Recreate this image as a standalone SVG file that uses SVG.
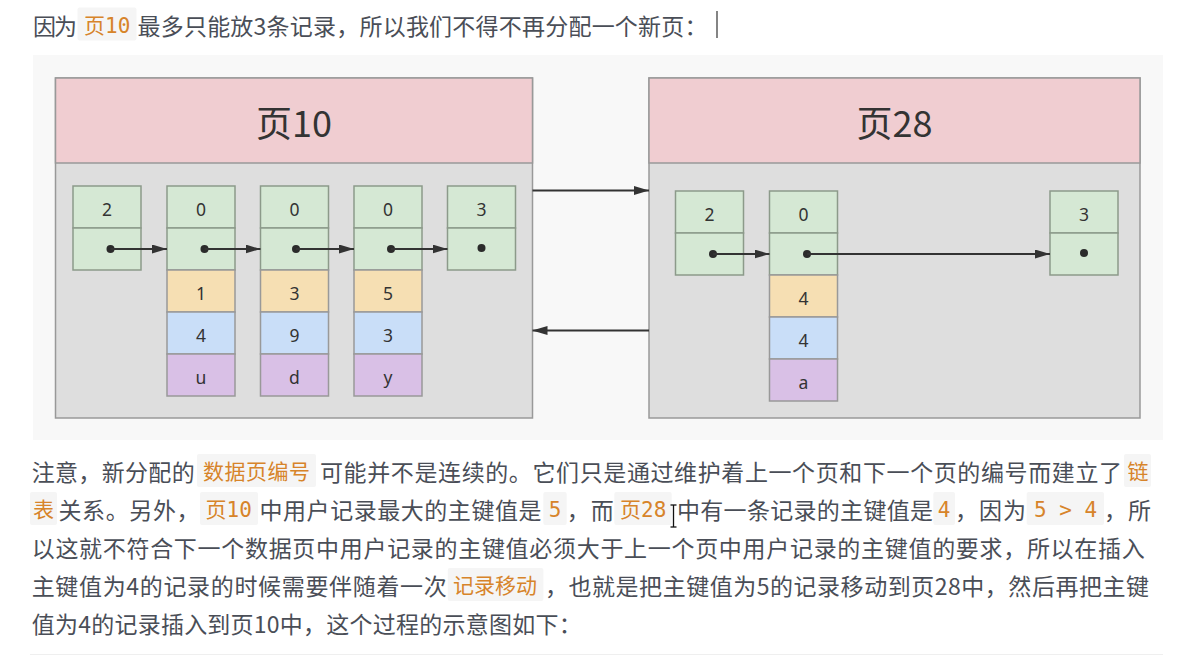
<svg xmlns="http://www.w3.org/2000/svg" width="1201" height="656" viewBox="0 0 1201 656">
<defs>
<style>
.txt{font-family:"Noto Sans CJK SC","Noto Sans",sans-serif;font-size:23px;fill:#4a4e57}
.code{font-family:"DejaVu Sans Mono","Noto Sans CJK SC",monospace;font-size:21px;fill:#d7842a}
.hl{fill:#f5f5f5}
.ptitle{font-family:"Noto Sans CJK SC","Noto Sans",sans-serif;font-size:36px;fill:#333;text-anchor:middle}
.phead{fill:#f0cdd1;stroke:#999;stroke-width:1.5}
.pbody{fill:#dedede;stroke:#999;stroke-width:1.5}
.g{fill:#d5e8d4;stroke:#8c9a8a;stroke-width:1.5}
.o{fill:#f6dfb3;stroke:#999;stroke-width:1.5}
.b{fill:#c9def8;stroke:#999;stroke-width:1.5}
.p{fill:#d9c0e6;stroke:#999;stroke-width:1.5}
.v{font-family:"Noto Sans","DejaVu Sans",sans-serif;font-size:17.5px;fill:#333;text-anchor:middle}
.dot{fill:#2b2b2b}
.ln{stroke:#333;stroke-width:2;fill:none;marker-end:url(#ah)}
</style>
<marker id="ah" markerUnits="userSpaceOnUse" markerWidth="15" markerHeight="10" refX="15" refY="4.5" orient="auto">
<path d="M0,0 L15,4.5 L0,9 z" fill="#333"/>
</marker>
</defs>
<rect x="0" y="0" width="1201" height="656" fill="#ffffff"/>

<!-- top line -->
<g id="intro">
<text class="txt" x="33" y="34.5" textLength="44" lengthAdjust="spacing">因为</text>
<rect class="hl" x="77.5" y="7.5" width="59" height="33" rx="2"/>
<text class="code" x="84" y="33">页10</text>
<text class="txt" x="137.5" y="34.5" textLength="570" lengthAdjust="spacing">最多只能放3条记录，所以我们不得不再分配一个新页：</text>
<line x1="717" y1="11" x2="717" y2="38" stroke="#333" stroke-width="1.2"/>
</g>

<!-- diagram background -->
<rect x="33" y="55" width="1130" height="385" fill="#f8f8f8"/>

<!-- page 10 -->
<g id="page10">
<rect class="pbody" x="55.5" y="78" width="477" height="340"/>
<rect class="phead" x="55.5" y="78" width="477" height="85"/>
<text class="ptitle" x="294" y="137">页10</text>
</g>
<g id="p10r1">
<rect class="g" x="73" y="186" width="68" height="42"/>
<rect class="g" x="73" y="228" width="68" height="42"/>
<text class="v" x="107" y="215.5">2</text>
<circle class="dot" cx="110.5" cy="249" r="4"/>
</g>
<g id="p10r2">
<rect class="g" x="167" y="186" width="68" height="42"/>
<rect class="g" x="167" y="228" width="68" height="42"/>
<rect class="o" x="167" y="270" width="68" height="42"/>
<rect class="b" x="167" y="312" width="68" height="42"/>
<rect class="p" x="167" y="354" width="68" height="42"/>
<text class="v" x="201" y="215.5">0</text>
<circle class="dot" cx="204.5" cy="249" r="4"/>
<text class="v" x="201" y="299.5">1</text>
<text class="v" x="201" y="341.5">4</text>
<text class="v" x="201" y="383.5">u</text>
</g>
<g id="p10r3">
<rect class="g" x="260.5" y="186" width="68" height="42"/>
<rect class="g" x="260.5" y="228" width="68" height="42"/>
<rect class="o" x="260.5" y="270" width="68" height="42"/>
<rect class="b" x="260.5" y="312" width="68" height="42"/>
<rect class="p" x="260.5" y="354" width="68" height="42"/>
<text class="v" x="294.5" y="215.5">0</text>
<circle class="dot" cx="296" cy="249" r="4"/>
<text class="v" x="294.5" y="299.5">3</text>
<text class="v" x="294.5" y="341.5">9</text>
<text class="v" x="294.5" y="383.5">d</text>
</g>
<g id="p10r4">
<rect class="g" x="354" y="186" width="68" height="42"/>
<rect class="g" x="354" y="228" width="68" height="42"/>
<rect class="o" x="354" y="270" width="68" height="42"/>
<rect class="b" x="354" y="312" width="68" height="42"/>
<rect class="p" x="354" y="354" width="68" height="42"/>
<text class="v" x="388" y="215.5">0</text>
<circle class="dot" cx="391" cy="249" r="4"/>
<text class="v" x="388" y="299.5">5</text>
<text class="v" x="388" y="341.5">3</text>
<text class="v" x="388" y="383.5">y</text>
</g>
<g id="p10r5">
<rect class="g" x="447.5" y="186" width="68" height="42"/>
<rect class="g" x="447.5" y="228" width="68" height="42"/>
<text class="v" x="481.5" y="215.5">3</text>
<circle class="dot" cx="481.5" cy="248" r="4"/>
</g>

<!-- page 28 -->
<g id="page28">
<rect class="pbody" x="649" y="78" width="491" height="340"/>
<rect class="phead" x="649" y="78" width="491" height="85"/>
<text class="ptitle" x="894.5" y="137">页28</text>
</g>
<g id="p28r1">
<rect class="g" x="675.5" y="191" width="68" height="42"/>
<rect class="g" x="675.5" y="233" width="68" height="42"/>
<text class="v" x="709.5" y="220.5">2</text>
<circle class="dot" cx="713" cy="254" r="4"/>
</g>
<g id="p28r2">
<rect class="g" x="769.5" y="191" width="68" height="42"/>
<rect class="g" x="769.5" y="233" width="68" height="42"/>
<rect class="o" x="769.5" y="275" width="68" height="42"/>
<rect class="b" x="769.5" y="317" width="68" height="42"/>
<rect class="p" x="769.5" y="359" width="68" height="42"/>
<text class="v" x="803.5" y="220.5">0</text>
<circle class="dot" cx="807" cy="254" r="4"/>
<text class="v" x="803.5" y="304.5">4</text>
<text class="v" x="803.5" y="346.5">4</text>
<text class="v" x="803.5" y="388.5">a</text>
</g>
<g id="p28r3">
<rect class="g" x="1050" y="191" width="68" height="42"/>
<rect class="g" x="1050" y="233" width="68" height="42"/>
<text class="v" x="1084" y="220.5">3</text>
<circle class="dot" cx="1084" cy="253" r="4"/>
</g>

<!-- connectors -->
<g id="connectors">
<line class="ln" x1="110.5" y1="249" x2="167" y2="249"/>
<line class="ln" x1="204.5" y1="249" x2="260.5" y2="249"/>
<line class="ln" x1="296" y1="249" x2="354" y2="249"/>
<line class="ln" x1="391" y1="249" x2="447.5" y2="249"/>
<line class="ln" x1="713" y1="254" x2="769.5" y2="254"/>
<line class="ln" x1="807" y1="254" x2="1050" y2="254"/>
<line class="ln" x1="532.5" y1="190.5" x2="649" y2="190.5"/>
<line class="ln" x1="649" y1="330.5" x2="532.5" y2="330.5"/>
</g>

<!-- paragraph -->
<g id="paragraph">
<text class="txt" x="31.7" y="481" textLength="163" lengthAdjust="spacing">注意，新分配的</text>
<rect class="hl" x="197" y="454" width="119" height="33" rx="2"/>
<text class="code" x="203" y="479" textLength="107" lengthAdjust="spacing">数据页编号</text>
<text class="txt" x="320" y="481" textLength="802" lengthAdjust="spacing">可能并不是连续的。它们只是通过维护着上一个页和下一个页的编号而建立了</text>
<rect class="hl" x="1124" y="454" width="27" height="33" rx="2"/>
<text class="code" x="1127.5" y="479">链</text>

<rect class="hl" x="30" y="492" width="27" height="33" rx="2"/>
<text class="code" x="33" y="517">表</text>
<text class="txt" x="58.5" y="519" textLength="141" lengthAdjust="spacing">关系。另外，</text>
<rect class="hl" x="200" y="492" width="58" height="33" rx="2"/>
<text class="code" x="205.5" y="517">页10</text>
<text class="txt" x="259.5" y="519" textLength="282" lengthAdjust="spacing">中用户记录最大的主键值是</text>
<rect class="hl" x="543.3" y="492" width="23.4" height="33" rx="2"/>
<text class="code" x="548.7" y="517">5</text>
<text class="txt" x="566.7" y="519" textLength="47" lengthAdjust="spacing">，而</text>
<rect class="hl" x="614.3" y="492" width="57.4" height="33" rx="2"/>
<text class="code" x="620" y="517">页28</text>
<text class="txt" x="677" y="519" textLength="256" lengthAdjust="spacing">中有一条记录的主键值是</text>
<rect class="hl" x="933.3" y="492" width="21.7" height="33" rx="2"/>
<text class="code" x="937.8" y="517">4</text>
<text class="txt" x="955" y="519" textLength="71" lengthAdjust="spacing">，因为</text>
<rect class="hl" x="1026.7" y="492" width="77.3" height="33" rx="2"/>
<text class="code" x="1034" y="517" xml:space="preserve">5 &gt; 4</text>
<text class="txt" x="1104" y="519" textLength="47" lengthAdjust="spacing">，所</text>

<text class="txt" x="31.7" y="557" textLength="1113" lengthAdjust="spacing">以这就不符合下一个数据页中用户记录的主键值必须大于上一个页中用户记录的主键值的要求，所以在插入</text>

<text class="txt" x="31.7" y="595" textLength="415" lengthAdjust="spacing">主键值为4的记录的时候需要伴随着一次</text>
<rect class="hl" x="447.8" y="568" width="95.6" height="33" rx="2"/>
<text class="code" x="453" y="593">记录移动</text>
<text class="txt" x="545" y="595" textLength="604" lengthAdjust="spacing">，也就是把主键值为5的记录移动到页28中，然后再把主键</text>

<text class="txt" x="31.7" y="633" textLength="550" lengthAdjust="spacing">值为4的记录插入到页10中，这个过程的示意图如下：</text>
</g>

<!-- mouse I-beam cursor -->
<g id="cursor" stroke="#111" stroke-width="1.3" fill="none">
<line x1="673.5" y1="505" x2="673.5" y2="527"/>
<line x1="670.5" y1="505" x2="676.5" y2="505"/>
<line x1="670.5" y1="527" x2="676.5" y2="527"/>
</g>

<rect x="30" y="654" width="1133" height="1" fill="#efefef"/>
</svg>
